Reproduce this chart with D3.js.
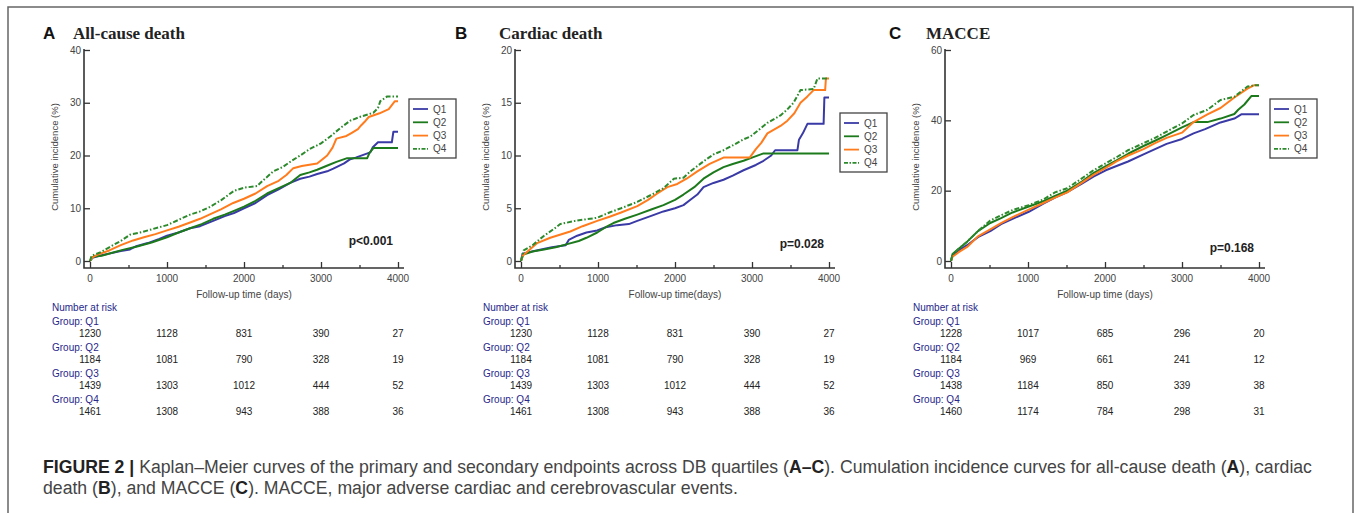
<!DOCTYPE html>
<meta charset="utf-8">
<head>
<script src="https://d3js.org/d3.v7.min.js"></script>
<style>
body { margin: 0; background: #fff; }
svg { display: block; }
.tick-lab { font: 10px "Liberation Sans", Arial, sans-serif; fill: #444; }
.risk { font: 10px "Liberation Sans", Arial, sans-serif; }
</style>
</head>
<body>
<script>
// set the dimensions
width = 1358
height = 513

// groups and colours
groups = ["Q1", "Q2", "Q3", "Q4"]
colors = ["#3a3aa6", "#1c7a1c", "#ff7b1c", "#2c8a2c"]
riskTimes = [0, 1000, 2000, 3000, 4000]

// number at risk tables
riskA = [[1230, 1128, 831, 390, 27], [1184, 1081, 790, 328, 19], [1439, 1303, 1012, 444, 52], [1461, 1308, 943, 388, 36]]
riskB = [[1230, 1128, 831, 390, 27], [1184, 1081, 790, 328, 19], [1439, 1303, 1012, 444, 52], [1461, 1308, 943, 388, 36]]
riskC = [[1228, 1017, 685, 296, 20], [1184, 969, 661, 241, 12], [1438, 1184, 850, 339, 38], [1460, 1174, 784, 298, 31]]

// cumulative incidence: [day, %]
allQ1 = [[0,0],[30,0.6],[120,1.0],[250,1.4],[400,1.9],[520,2.2],[600,2.8],[750,3.4],[900,4.2],[1000,4.8],[1150,5.4],[1300,6.2],[1430,6.6],[1600,7.6],[1750,8.5],[1870,9.1],[2000,10.0],[2150,11.0],[2300,12.5],[2450,13.6],[2600,14.8],[2730,15.6],[2850,16.0],[2950,16.5],[3080,17.0],[3160,17.5],[3300,18.5],[3380,19.3],[3450,19.6],[3640,20.6],[3670,21.5],[3740,22.5],[3920,22.5],[3940,24.5],[4000,24.5]]
allQ2 = [[0,0],[40,0.8],[150,1.0],[300,1.6],[450,2.2],[600,2.7],[800,3.5],[1000,4.5],[1150,5.4],[1300,6.2],[1450,7.0],[1600,8.0],[1750,8.8],[1870,9.5],[2000,10.3],[2150,11.4],[2300,12.8],[2450,13.8],[2600,14.8],[2730,16.3],[2850,16.8],[2950,17.3],[3100,18.2],[3200,18.8],[3340,19.5],[3600,19.5],[3630,20.5],[3680,21.4],[4000,21.4]]
allQ3 = [[0,0],[30,0.7],[100,1.2],[250,2.0],[400,3.0],[560,3.9],[700,4.5],[850,5.1],[1000,5.8],[1150,6.5],[1300,7.3],[1430,8.0],[1550,8.8],[1700,9.8],[1860,11.0],[2000,11.8],[2150,12.8],[2300,14.2],[2450,15.2],[2550,16.3],[2640,17.6],[2750,18.0],[2950,18.5],[3020,19.3],[3080,20.0],[3150,21.5],[3200,23.2],[3330,23.7],[3400,24.3],[3480,25.0],[3520,25.7],[3580,26.6],[3620,27.3],[3760,28.0],[3880,28.8],[3960,30.3],[4000,30.3]]
allQ4 = [[0,0],[20,1.0],[130,1.6],[250,2.6],[400,3.8],[520,5.0],[650,5.4],[800,6.0],[1000,6.8],[1150,7.8],[1300,8.8],[1430,9.4],[1550,10.2],[1700,11.5],[1870,13.3],[2000,13.9],[2170,14.2],[2250,15.3],[2380,17.0],[2500,17.8],[2620,19.0],[2730,20.0],[2850,21.2],[3000,22.3],[3120,23.6],[3250,25.2],[3380,26.6],[3500,27.3],[3680,28.1],[3740,29.0],[3770,30.3],[3860,31.2],[4000,31.2]]

cardQ1 = [[0,0],[20,0.7],[200,1.0],[400,1.3],[580,1.5],[620,2.0],[730,2.4],[850,2.7],[990,2.9],[1100,3.2],[1250,3.4],[1400,3.5],[1510,3.8],[1700,4.3],[1850,4.7],[2000,5.0],[2110,5.3],[2200,5.8],[2290,6.3],[2370,7.0],[2500,7.4],[2630,7.7],[2750,8.1],[2890,8.6],[3050,9.1],[3150,9.5],[3250,10.0],[3300,10.5],[3590,10.5],[3610,11.5],[3660,12.1],[3720,13.0],[3930,13.0],[3940,15.5],[4000,15.5]]
cardQ2 = [[0,0],[30,0.6],[150,0.9],[300,1.1],[450,1.3],[600,1.6],[750,1.9],[850,2.2],[990,2.7],[1100,3.2],[1200,3.6],[1350,4.0],[1510,4.4],[1700,4.9],[1850,5.3],[2000,5.8],[2110,6.3],[2250,7.0],[2370,7.8],[2500,8.4],[2630,8.9],[2750,9.2],[2890,9.5],[3000,9.8],[3150,10.2],[4000,10.2]]
cardQ3 = [[0,0],[20,0.5],[100,1.0],[210,1.7],[380,2.2],[640,2.8],[800,3.3],[990,3.8],[1150,4.2],[1300,4.6],[1510,5.2],[1650,5.8],[1770,6.4],[1900,7.0],[2030,7.3],[2150,7.8],[2290,8.5],[2450,9.2],[2630,9.8],[2970,9.8],[3050,10.6],[3120,11.2],[3200,12.1],[3370,12.8],[3460,13.3],[3550,14.0],[3630,15.0],[3720,15.6],[3800,16.2],[3950,16.2],[3960,17.3],[4000,17.3]]
cardQ4 = [[0,0],[35,1.0],[150,1.5],[300,2.4],[420,3.0],[510,3.5],[700,3.8],[990,4.1],[1150,4.6],[1300,5.0],[1510,5.6],[1700,6.3],[1850,6.9],[1985,7.8],[2110,7.9],[2200,8.5],[2290,9.0],[2400,9.6],[2500,10.1],[2630,10.5],[2760,11.0],[2880,11.5],[2980,11.8],[3100,12.5],[3200,13.1],[3370,13.8],[3450,14.3],[3540,15.0],[3630,16.2],[3800,16.3],[3850,17.3],[4000,17.3]]

macQ1 = [[0,0],[20,1.5],[100,3.0],[210,4.5],[350,6.8],[510,8.5],[650,10.5],[800,12.0],[1010,14.0],[1200,16.3],[1350,18.0],[1510,19.6],[1700,22.0],[1850,24.0],[2010,25.8],[2150,27.0],[2300,28.3],[2500,30.3],[2650,31.8],[2800,33.3],[3000,34.7],[3150,36.3],[3300,37.5],[3500,39.4],[3680,40.5],[3770,41.7],[4000,41.7]]
macQ2 = [[0,0],[20,2.0],[100,3.5],[210,5.5],[350,8.5],[510,10.8],[650,12.2],[800,13.8],[1010,15.5],[1200,17.0],[1350,18.5],[1510,20.0],[1700,22.6],[1850,25.0],[2010,27.0],[2150,28.6],[2300,30.5],[2500,32.7],[2650,34.2],[2800,35.8],[3000,38.0],[3150,39.5],[3330,39.5],[3500,40.5],[3680,41.8],[3730,43.0],[3810,44.5],[3900,46.9],[4000,46.9]]
macQ3 = [[0,0],[20,1.2],[100,2.5],[210,4.0],[350,7.0],[510,9.0],[650,10.8],[800,12.5],[1010,14.6],[1200,16.5],[1350,18.0],[1510,19.5],[1700,22.3],[1850,24.5],[2010,26.5],[2150,28.3],[2300,30.0],[2500,31.8],[2650,33.5],[2800,35.0],[3000,36.5],[3150,39.5],[3330,41.7],[3500,43.5],[3680,46.5],[3850,49.0],[3940,50.0],[4000,50.0]]
macQ4 = [[0,0],[20,1.8],[100,3.5],[210,5.5],[350,8.5],[510,11.5],[650,13.0],[800,14.5],[1010,15.9],[1200,17.5],[1350,19.5],[1510,20.7],[1700,23.5],[1850,25.8],[2010,27.8],[2150,29.5],[2300,31.5],[2500,33.5],[2650,35.0],[2800,36.8],[3000,39.1],[3150,41.5],[3330,43.0],[3500,45.8],[3680,46.7],[3850,49.6],[3950,50.0],[4000,50.0]]

panels = [
  {letter: "A", title: "All-cause death", yMax: 40, yStep: 10, pval: "p<0.001", xlab: "Follow-up time (days)",
   series: [allQ1, allQ2, allQ3, allQ4], risk: riskA,
   left: 84, letterDx: -41, titleDx: -11, legendY: 99, pY: 245},
  {letter: "B", title: "Cardiac death", yMax: 20, yStep: 5, pval: "p=0.028", xlab: "Follow-up time(days)",
   series: [cardQ1, cardQ2, cardQ3, cardQ4], risk: riskB,
   left: 515, letterDx: -60, titleDx: -16, legendY: 113, pY: 248},
  {letter: "C", title: "MACCE", yMax: 60, yStep: 20, pval: "p=0.168", xlab: "Follow-up time (days)",
   series: [macQ1, macQ2, macQ3, macQ4], risk: riskC,
   left: 945, letterDx: -56, titleDx: -19, legendY: 99, pY: 252}
]

var svg = d3.select("body").append("svg")
  .attr("width", width)
  .attr("height", height)
  .attr("viewBox", [0, 0, width, height])

// outer frame (bottom runs off the picture)
svg.append("path")
  .attr("d", "M8,520 V7 H1353 V520")
  .attr("fill", "none")
  .attr("stroke", "#666")
  .attr("stroke-width", 1.5)

panels.forEach(function(p) {
  var g = svg.append("g")

  var x = d3.scaleLinear().domain([0, 4000]).range([p.left + 6, p.left + 314])
  var y = d3.scaleLinear().domain([0, p.yMax]).range([261, 50])
  var axisY = 268

  // letter + title
  g.append("text")
    .attr("x", p.left + p.letterDx).attr("y", 39)
    .attr("font-family", "Liberation Sans, Arial, sans-serif")
    .attr("font-weight", "bold").attr("font-size", 17)
    .attr("fill", "#111")
    .text(p.letter)
  g.append("text")
    .attr("x", p.left + p.titleDx).attr("y", 39)
    .attr("font-family", "Liberation Serif, Times New Roman, serif")
    .attr("font-weight", "bold").attr("font-size", 17)
    .attr("fill", "#222")
    .text(p.title)

  // axes, ticks point inward
  var yAxis = d3.axisRight(y).tickValues(d3.range(0, p.yMax + 1, p.yStep)).tickSize(6).tickFormat("")
  g.append("g")
    .attr("transform", `translate(${p.left},0)`)
    .call(yAxis)
    .call(a => a.select(".domain").remove())
    .call(a => a.selectAll("line").attr("stroke", "#333").attr("stroke-width", 1.3))
  g.selectAll(".ylab")
    .data(d3.range(0, p.yMax + 1, p.yStep))
    .join("text")
      .attr("class", "tick-lab")
      .attr("x", p.left - 3).attr("y", d => y(d) + 3.5)
      .attr("text-anchor", "end")
      .text(d => d)

  var xAxis = d3.axisTop(x).tickValues(d3.range(0, 4001, 500)).tickSize(6).tickFormat("")
  g.append("g")
    .attr("transform", `translate(0,${axisY})`)
    .call(xAxis)
    .call(a => a.select(".domain").remove())
    .call(a => a.selectAll("line")
      .attr("stroke", "#333").attr("stroke-width", 1.3)
      .attr("y2", d => d % 1000 == 0 ? -6 : -3))
  g.selectAll(".xlab")
    .data(riskTimes)
    .join("text")
      .attr("class", "tick-lab")
      .attr("x", d => x(d)).attr("y", 282)
      .attr("text-anchor", "middle")
      .text(d => d)

  g.append("path")
    .attr("d", `M${p.left},49 V${axisY} H${p.left + 320}`)
    .attr("fill", "none").attr("stroke", "#333").attr("stroke-width", 1.6)

  // axis titles
  g.append("text")
    .attr("transform", `translate(${p.left - 26},157) rotate(-90)`)
    .attr("text-anchor", "middle")
    .attr("class", "tick-lab")
    .style("font-size", "9.5px")
    .text("Cumulative incidence (%)")
  g.append("text")
    .attr("x", x(2000)).attr("y", 298)
    .attr("text-anchor", "middle")
    .attr("class", "tick-lab")
    .text(p.xlab)

  // curves
  var line = d3.line()
    .x(d => x(d[0]))
    .y(d => y(d[1]))

  p.series.forEach(function(s, i) {
    g.append("path")
      .datum(s)
      .attr("d", line)
      .attr("fill", "none")
      .attr("stroke", colors[i])
      .attr("stroke-width", 2)
      .attr("stroke-linejoin", "round")
      .attr("stroke-dasharray", i == 3 ? "5,2,1.5,2" : null)
  })

  // legend
  var lx = p.left + 325
  g.append("rect")
    .attr("x", lx).attr("y", p.legendY)
    .attr("width", 47).attr("height", 59)
    .attr("fill", "#fff").attr("stroke", "#444").attr("stroke-width", 1.3)
  var leg = g.selectAll(".leg")
    .data(groups)
    .join("g")
      .attr("transform", (d, i) => `translate(${lx},${p.legendY + 10 + i * 13.3})`)
  leg.append("line")
    .attr("x1", 4).attr("x2", 19)
    .attr("stroke", (d, i) => colors[i])
    .attr("stroke-width", 1.8)
    .attr("stroke-dasharray", (d, i) => i == 3 ? "4,1.5,1.5,1.5" : null)
  leg.append("text")
    .attr("x", 24).attr("y", 3.5)
    .attr("class", "tick-lab")
    .attr("fill", "#333")
    .text(d => d)

  // p value
  g.append("text")
    .attr("x", p.left + 309).attr("y", p.pY)
    .attr("text-anchor", "end")
    .attr("font-family", "Liberation Sans, Arial, sans-serif")
    .attr("font-weight", "bold").attr("font-size", 12)
    .attr("fill", "#222")
    .text(p.pval)

  // number at risk
  var tx = p.left - 32
  g.append("text").attr("class", "risk").attr("x", tx).attr("y", 311)
    .attr("fill", "#27278a").text("Number at risk")
  groups.forEach(function(grp, i) {
    var gy = 325 + i * 26
    g.append("text").attr("class", "risk").attr("x", tx).attr("y", gy)
      .attr("fill", "#27278a").text("Group: " + grp)
    g.selectAll(".r" + i)
      .data(p.risk[i])
      .join("text")
        .attr("class", "risk")
        .attr("x", (d, j) => x(riskTimes[j])).attr("y", gy + 12)
        .attr("text-anchor", "middle")
        .attr("fill", "#222")
        .text(d => d)
  })
})

// caption
var cap = svg.append("g")
  .attr("font-family", "Liberation Sans, Arial, sans-serif")
  .attr("font-size", 15)
  .attr("fill", "#444")
var c1 = cap.append("text").attr("x", 43).attr("y", 473)
c1.append("tspan").attr("font-weight", "bold").attr("fill", "#222").text("FIGURE 2 | ")
c1.append("tspan").text("Kaplan\u2013Meier curves of the primary and secondary endpoints across DB quartiles (")
c1.append("tspan").attr("font-weight", "bold").attr("fill", "#222").text("A\u2013C")
c1.append("tspan").text("). Cumulation incidence curves for all-cause death (")
c1.append("tspan").attr("font-weight", "bold").attr("fill", "#222").text("A")
c1.append("tspan").text("), cardiac")
var c2 = cap.append("text").attr("x", 43).attr("y", 494)
c2.append("tspan").text("death (")
c2.append("tspan").attr("font-weight", "bold").attr("fill", "#222").text("B")
c2.append("tspan").text("), and MACCE (")
c2.append("tspan").attr("font-weight", "bold").attr("fill", "#222").text("C")
c2.append("tspan").text("). MACCE, major adverse cardiac and cerebrovascular events.")

// fit the first caption line to the width it takes in the figure
var len = c1.node().getComputedTextLength()
cap.attr("font-size", 15 * 1270 / len)
</script>
</body>
